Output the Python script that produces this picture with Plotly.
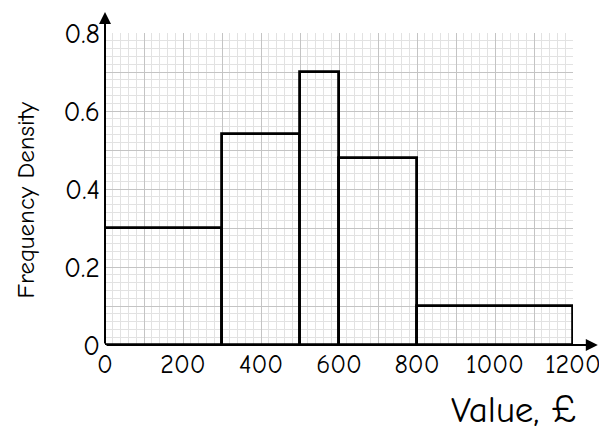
import plotly.graph_objects as go

bin_edges = [0, 300, 500, 600, 800, 1200]
freq_density = [0.3, 0.54, 0.7, 0.48, 0.1]
x_tick_vals = [0, 100, 200, 300, 400, 500, 600, 700, 800, 900, 1000, 1100, 1200]
x_tick_text = ["0", "", "200", "", "400", "", "600", "", "800", "", "1000", "", "1200"]
y_tick_vals = [0, 0.1, 0.2, 0.3, 0.4, 0.5, 0.6, 0.7, 0.8]
y_tick_text = ["0", "", "0.2", "", "0.4", "", "0.6", "", "0.8"]

mids = [(a + b) / 2 for a, b in zip(bin_edges[:-1], bin_edges[1:])]
widths = [b - a for a, b in zip(bin_edges[:-1], bin_edges[1:])]

FONT = "Comic Sans MS, Comic Neue, DejaVu Sans, sans-serif"

fig = go.Figure()
fig.add_trace(go.Bar(
    x=mids, y=freq_density, width=widths,
    marker=dict(color="rgba(0,0,0,0)", line=dict(color="black", width=2.8)),
    showlegend=False, hoverinfo="skip",
))

fig.update_layout(
    width=599, height=427,
    margin=dict(l=97, r=34, t=25, b=90),
    plot_bgcolor="white", paper_bgcolor="white",
    bargap=0,
    font=dict(family=FONT, color="black"),
    xaxis=dict(
        range=[0, 1200], tickvals=x_tick_vals, ticktext=x_tick_text,
        showgrid=True, gridcolor="#c4c4c4", gridwidth=1.2,
        minor=dict(dtick=20, tick0=0, showgrid=True, gridcolor="#e2e2e2", gridwidth=1),
        showline=False, zeroline=False, ticks="", automargin=False,
        tickfont=dict(size=26), ticklabelstandoff=1,
    ),
    yaxis=dict(
        range=[0, 0.8], tickvals=y_tick_vals, ticktext=y_tick_text,
        showgrid=True, gridcolor="#c4c4c4", gridwidth=1.2,
        minor=dict(dtick=0.02, tick0=0, showgrid=True, gridcolor="#e2e2e2", gridwidth=1),
        showline=False, zeroline=False, ticks="", automargin=False,
        tickfont=dict(size=28), ticklabelstandoff=4,
    ),
)

# axis lines with arrows
fig.add_annotation(xref="x domain", yref="y domain", x=1.053, y=0,
                   axref="x domain", ayref="y domain", ax=0, ay=0, showarrow=True,
                   arrowhead=2, arrowsize=1.2, arrowwidth=2, arrowcolor="black", text="")
fig.add_annotation(xref="x domain", yref="y domain", x=0, y=1.067,
                   axref="x domain", ayref="y domain", ax=0, ay=0, showarrow=True,
                   arrowhead=2, arrowsize=1.2, arrowwidth=2, arrowcolor="black", text="")

fig.add_annotation(xref="paper", yref="paper", x=-0.205, y=0.465, text="Frequency Density",
                   textangle=-90, showarrow=False, font=dict(size=25, family=FONT),
                   xanchor="left", yanchor="middle")
fig.add_annotation(xref="paper", yref="paper", x=0.872, y=-0.208, text="Value, £",
                   showarrow=False, font=dict(size=37, family=FONT), xanchor="center", yanchor="middle")

fig.write_html("out.html")
